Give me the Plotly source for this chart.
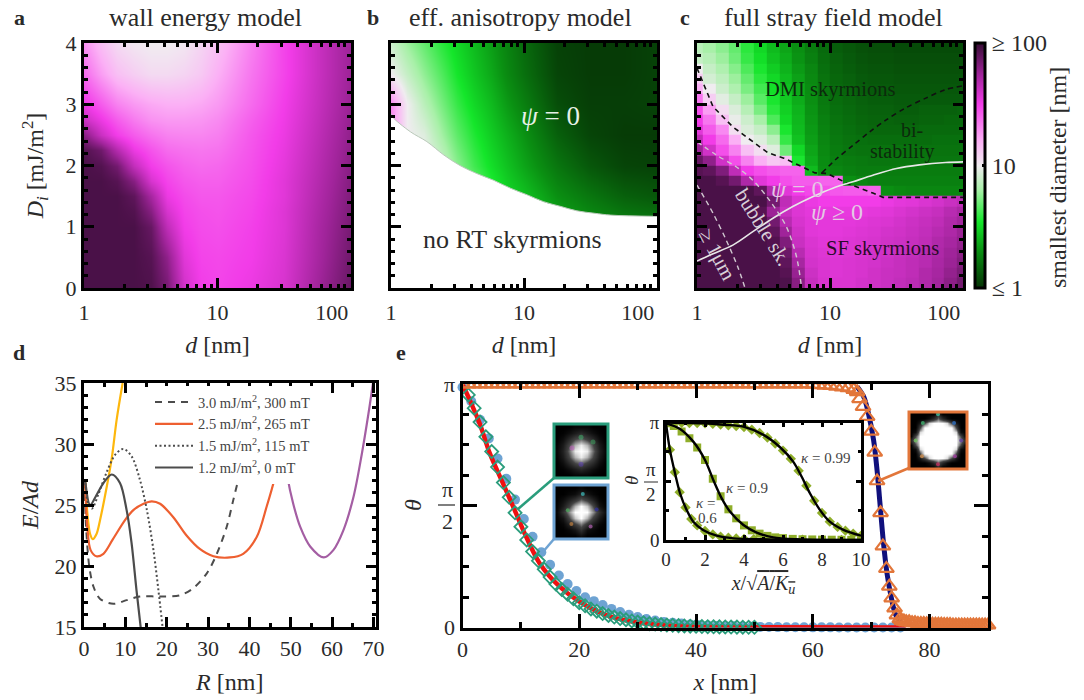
import plotly.graph_objects as go

W, H = 1084, 700
FONT = "Liberation Serif"
INK = "#2a2a2a"

# ---- panels a, b: smooth maps, z is log10(diameter / nm)
d_coarse = [1, 1.33, 1.78, 2.37, 3.16, 4.22, 5.62, 7.5, 10, 17.8, 31.6, 56.2, 100]
di_wall = [4, 3.5, 3, 2.75, 2.5, 2.25, 2, 1.75, 1.5, 1.25, 1, 0.5, 0]
z_wall = [
    [1.28, 1.15, 1.06, 1.02, 1.00, 1.00, 1.02, 1.08, 1.15, 1.32, 1.48, 1.62, 1.75],
    [1.38, 1.25, 1.15, 1.10, 1.06, 1.06, 1.08, 1.12, 1.20, 1.35, 1.48, 1.62, 1.75],
    [1.52, 1.42, 1.32, 1.26, 1.22, 1.20, 1.20, 1.22, 1.26, 1.38, 1.50, 1.63, 1.76],
    [1.62, 1.52, 1.42, 1.34, 1.28, 1.26, 1.26, 1.27, 1.30, 1.41, 1.51, 1.64, 1.77],
    [1.80, 1.62, 1.50, 1.42, 1.36, 1.32, 1.31, 1.31, 1.33, 1.43, 1.52, 1.65, 1.78],
    [1.93, 1.86, 1.68, 1.52, 1.44, 1.38, 1.36, 1.35, 1.36, 1.44, 1.53, 1.66, 1.79],
    [1.95, 1.93, 1.85, 1.64, 1.50, 1.44, 1.40, 1.38, 1.39, 1.45, 1.54, 1.67, 1.80],
    [1.95, 1.95, 1.92, 1.80, 1.58, 1.48, 1.43, 1.41, 1.41, 1.46, 1.55, 1.68, 1.81],
    [1.95, 1.95, 1.95, 1.90, 1.72, 1.52, 1.46, 1.43, 1.43, 1.47, 1.55, 1.69, 1.82],
    [1.95, 1.95, 1.95, 1.93, 1.80, 1.58, 1.48, 1.45, 1.44, 1.48, 1.56, 1.70, 1.83],
    [1.95, 1.95, 1.95, 1.95, 1.88, 1.65, 1.50, 1.46, 1.45, 1.49, 1.56, 1.71, 1.84],
    [1.95, 1.95, 1.95, 1.95, 1.92, 1.78, 1.55, 1.48, 1.47, 1.50, 1.57, 1.72, 1.86],
    [1.95, 1.95, 1.95, 1.95, 1.94, 1.84, 1.60, 1.50, 1.48, 1.52, 1.58, 1.74, 1.88],
]
di_aniso = [4, 3.5, 3, 2.5, 2, 1.5, 1, 0.5, 0]
z_aniso = [
    [0.90, 0.78, 0.68, 0.58, 0.50, 0.42, 0.34, 0.26, 0.18, 0.05, 0.03, 0.03, 0.05],
    [1.00, 0.88, 0.76, 0.65, 0.54, 0.45, 0.37, 0.28, 0.20, 0.06, 0.03, 0.03, 0.05],
    [1.30, 1.00, 0.85, 0.72, 0.60, 0.50, 0.42, 0.33, 0.25, 0.09, 0.04, 0.04, 0.05],
    [1.30, 1.00, 0.95, 0.80, 0.67, 0.56, 0.47, 0.39, 0.31, 0.15, 0.06, 0.03, 0.03],
    [1.30, 1.00, 1.00, 0.90, 0.75, 0.62, 0.52, 0.44, 0.36, 0.22, 0.12, 0.06, 0.05],
    [1.30, 1.00, 1.00, 1.00, 0.90, 0.75, 0.60, 0.50, 0.44, 0.30, 0.22, 0.15, 0.12],
    [1.30, 1.00, 1.00, 1.00, 1.00, 0.90, 0.70, 0.55, 0.50, 0.40, 0.32, 0.27, 0.25],
    [1.30, 1.00, 1.00, 1.00, 1.00, 0.90, 0.70, 0.55, 0.50, 0.40, 0.32, 0.27, 0.25],
    [1.30, 1.00, 1.00, 1.00, 1.00, 0.90, 0.70, 0.55, 0.50, 0.40, 0.32, 0.27, 0.25],
]
edge_d = [1, 1.02, 1.4, 1.86, 2.5, 3.3, 4.4, 5.9, 7.9, 10.6, 14, 19, 25, 34, 45, 100]
edge_di = [2.85, 2.8, 2.55, 2.39, 2.17, 2.0, 1.87, 1.76, 1.63, 1.52, 1.41, 1.33, 1.26, 1.22, 1.19, 1.17]

# ---- panel c: blocky map
d_full = [1, 1.24, 1.55, 1.93, 2.4, 2.98, 3.73, 4.64, 5.78, 7.2, 8.97,
          11.2, 13.9, 17.3, 21.5, 26.8, 33.4, 41.6, 51.8, 64.5, 80.3, 100]
di_full = [3.92, 3.75, 3.58, 3.42, 3.25, 3.08, 2.92, 2.75, 2.58, 2.42, 2.25, 2.08,
           1.92, 1.75, 1.58, 1.42, 1.25, 1.08, 0.92, 0.75, 0.58, 0.42, 0.25, 0.08]
z_full = [
    [.85, .80, .75, .68, .58, .50, .42, .36, .30, .24, .18, .14, .12, .10, .09, .09, .08, .08, .08, .08, .08, .08],
    [.88, .84, .78, .70, .60, .52, .44, .38, .31, .25, .19, .15, .13, .11, .10, .10, .09, .09, .09, .09, .09, .09],
    [1.0, .88, .82, .74, .64, .55, .47, .40, .33, .27, .20, .16, .14, .12, .11, .11, .10, .10, .10, .10, .10, .10],
    [1.1, .92, .86, .78, .68, .58, .50, .42, .35, .28, .21, .17, .15, .13, .12, .12, .11, .11, .11, .11, .11, .11],
    [1.2, 1.0, .90, .82, .72, .62, .52, .44, .37, .29, .22, .18, .16, .14, .13, .13, .12, .12, .12, .12, .12, .12],
    [1.35, 1.1, .96, .88, .78, .66, .55, .46, .38, .30, .23, .19, .17, .15, .14, .14, .13, .13, .13, .13, .13, .13],
    [1.45, 1.25, 1.05, .94, .84, .72, .58, .48, .40, .31, .24, .20, .18, .16, .15, .15, .14, .14, .15, .15, .15, .16],
    [1.50, 1.35, 1.15, .98, .90, .80, .64, .50, .41, .32, .25, .21, .19, .17, .16, .16, .15, .15, .16, .16, .17, .17],
    [1.55, 1.42, 1.30, 1.05, .94, .88, .75, .55, .42, .33, .26, .22, .20, .18, .17, .17, .17, .17, .18, .18, .18, .18],
    [1.65, 1.50, 1.38, 1.20, 1.0, .95, .85, .60, .44, .34, .27, .23, .21, .20, .19, .19, .19, .19, .19, .20, .20, .20],
    [1.75, 1.60, 1.45, 1.32, 1.15, 1.05, .95, .70, .50, .36, .28, .24, .22, .21, .21, .21, .21, .21, .21, .21, .21, .21],
    [1.88, 1.78, 1.60, 1.45, 1.32, 1.20, 1.12, 1.15, .55, .38, .29, .25, .24, .23, .22, .22, .22, .22, .22, .22, .22, .22],
    [1.92, 1.90, 1.82, 1.65, 1.50, 1.45, 1.42, 1.40, 1.40, .42, .30, .27, .25, .24, .24, .24, .24, .24, .24, .24, .24, .24],
    [1.95, 1.95, 1.92, 1.85, 1.70, 1.55, 1.50, 1.45, 1.42, 1.42, 1.40, 1.40, .30, .27, .25, .25, .25, .25, .25, .25, .25, .25],
    [1.95, 1.95, 1.95, 1.95, 1.95, 1.90, 1.70, 1.55, 1.50, 1.47, 1.45, 1.43, 1.42, 1.42, 1.40, .30, .28, .27, .27, .27, .27, .27],
    [1.95, 1.95, 1.95, 1.95, 1.95, 1.95, 1.85, 1.65, 1.56, 1.52, 1.50, 1.50, 1.50, 1.50, 1.50, 1.52, 1.54, 1.55, 1.57, 1.59, 1.62, 1.65],
    [1.95, 1.95, 1.95, 1.95, 1.95, 1.92, 1.75, 1.62, 1.56, 1.54, 1.53, 1.53, 1.53, 1.53, 1.54, 1.55, 1.57, 1.59, 1.61, 1.63, 1.67, 1.71],
    [1.95, 1.95, 1.95, 1.95, 1.95, 1.95, 1.85, 1.67, 1.58, 1.55, 1.54, 1.54, 1.54, 1.55, 1.56, 1.57, 1.59, 1.61, 1.63, 1.65, 1.69, 1.73],
    [1.95, 1.95, 1.95, 1.95, 1.95, 1.95, 1.90, 1.74, 1.60, 1.55, 1.54, 1.54, 1.55, 1.56, 1.57, 1.59, 1.60, 1.62, 1.64, 1.67, 1.70, 1.75],
    [1.95, 1.95, 1.95, 1.95, 1.95, 1.95, 1.93, 1.82, 1.62, 1.57, 1.55, 1.55, 1.56, 1.57, 1.58, 1.60, 1.61, 1.63, 1.65, 1.69, 1.72, 1.77],
    [1.95, 1.95, 1.95, 1.95, 1.95, 1.95, 1.95, 1.87, 1.67, 1.58, 1.56, 1.55, 1.56, 1.57, 1.59, 1.60, 1.62, 1.64, 1.67, 1.70, 1.74, 1.79],
    [1.95, 1.95, 1.95, 1.95, 1.95, 1.95, 1.95, 1.90, 1.72, 1.59, 1.57, 1.56, 1.57, 1.58, 1.59, 1.61, 1.63, 1.65, 1.67, 1.71, 1.75, 1.81],
    [1.95, 1.95, 1.95, 1.95, 1.95, 1.95, 1.95, 1.92, 1.76, 1.61, 1.57, 1.56, 1.57, 1.58, 1.60, 1.62, 1.63, 1.65, 1.69, 1.72, 1.77, 1.83],
    [1.95, 1.95, 1.95, 1.95, 1.95, 1.95, 1.95, 1.94, 1.80, 1.63, 1.58, 1.57, 1.57, 1.59, 1.60, 1.62, 1.64, 1.66, 1.69, 1.73, 1.79, 1.85],
]
dmi_d = [1, 1.32, 1.86, 2.63, 3.4, 4.5, 5.9, 7.7, 9.5, 13.5, 21, 25, 100]
dmi_di = [3.59, 2.96, 2.63, 2.39, 2.21, 2.12, 2.0, 1.88, 1.87, 1.71, 1.55, 1.48, 1.48]
bi_d = [8.7, 11.2, 14.9, 19.9, 26.3, 37, 52.5, 74, 100]
bi_di = [1.88, 2.11, 2.33, 2.55, 2.74, 2.94, 3.10, 3.24, 3.30]
psi_d = [1, 1.32, 1.86, 2.63, 3.7, 5.25, 7.4, 10.5, 14.9, 21, 31.6, 47, 74, 100]
psi_di = [0.44, 0.56, 0.70, 0.92, 1.135, 1.33, 1.49, 1.63, 1.735, 1.84, 1.95, 2.01, 2.05, 2.06]
bubble_d = [1, 1.4, 1.97, 2.63, 3.5, 4.7, 5.6, 6.1]
bubble_di = [2.39, 2.17, 1.98, 1.76, 1.435, 1.0, 0.51, 0.02]
micron_d = [1, 1.32, 1.66, 2.03, 2.28]
micron_di = [1.68, 1.22, 0.78, 0.34, 0.02]

# ---- panel d
r_yellow = [0.3, 0.9, 1.5, 2.1, 3.0, 3.9, 5.5, 6.7, 7.9, 9.35]
e_yellow = [27.0, 24.0, 22.6, 22.2, 22.6, 23.8, 26.5, 28.8, 32.0, 35.0]
r_orange = [0.3, 0.8, 1.6, 3.0, 4.7, 7.0, 10.0, 12.0, 14.4, 16.4, 18.4, 21.6, 24.8, 28.0,
            31.3, 35.3, 38.5, 41.8, 44.2, 46.2, 47.5]
e_orange = [26.8, 23.2, 21.3, 20.8, 21.0, 22.2, 23.8, 24.6, 25.1, 25.3, 25.1, 24.0, 22.5, 21.4,
            20.8, 20.7, 21.0, 22.4, 24.9, 27.3, 29.5]
r_purple = [48.4, 49.2, 50.6, 52.3, 54.7, 58.0, 60.3, 62.7, 65.2, 67.2, 68.8, 69.9]
e_purple = [29.5, 27.3, 25.1, 23.2, 21.6, 20.7, 21.3, 22.9, 25.7, 29.2, 32.5, 35.0]
r_dash = [0.1, 0.5, 1.3, 2.3, 3.9, 7.1, 10.3, 13.5, 18.4, 23.2, 26.5, 29.7, 32.0, 34.5, 36.1, 37.7]
e_dash = [27.0, 23.2, 19.9, 18.3, 17.3, 16.9, 17.2, 17.5, 17.5, 17.6, 18.2, 19.4, 20.9, 23.2, 25.4, 27.6]
r_dot = [0.3, 1.0, 1.9, 3.5, 5.5, 7.5, 9.5, 11.5, 13.5, 15.2, 16.8, 18.0, 19.0]
e_dot = [26.8, 25.1, 24.7, 25.9, 27.7, 29.1, 29.6, 29.0, 27.1, 24.6, 21.3, 18.0, 15.0]
r_solid = [0.3, 1.5, 3.0, 4.7, 6.7, 8.7, 10.3, 11.5, 12.7, 13.7]
e_solid = [27.0, 25.0, 25.8, 26.8, 27.5, 26.8, 24.6, 21.9, 18.0, 15.0]
legend_names = ["3.0 mJ/m<sup>2</sup>, 300 mT", "2.5 mJ/m<sup>2</sup>, 265 mT",
                "1.5 mJ/m<sup>2</sup>, 115 mT", "1.2 mJ/m<sup>2</sup>, 0 mT"]

# ---- panel e
x_red = [0, 0.97, 2.95, 4.66, 6.93, 8.9, 10.9, 13.2, 16.6, 20, 24.5, 29, 34.8, 40, 50, 76]
t_red = [3.14, 2.98, 2.63, 2.25, 1.86, 1.52, 1.17, 0.83, 0.53, 0.335, 0.163, 0.077, 0.026, 0.01, 0.003, 0.0]
x_navy = [67.6, 68.7, 69.5, 70.4, 71.0, 71.5, 72.1, 72.7, 73.4, 74.2, 75.2]
t_navy = [3.107, 2.98, 2.77, 2.42, 2.03, 1.6, 1.09, 0.70, 0.40, 0.163, 0.056]
x_blue = [0, 1.5, 3, 4.5, 6, 7.5, 9, 10.5, 12, 13.5, 15, 16.5, 18, 19.5, 21, 22.5, 24, 25.5, 27, 28.5,
          30, 31.5, 33, 34.5, 36, 37.5, 39, 40.5, 42, 43.5, 45, 46.5, 48, 49.5, 51, 52.5, 54, 55.5,
          57, 58.5, 60, 61.5, 63, 64.5, 66, 67.5, 69, 70.5, 72, 73.5, 75]
t_blue = [3.10, 2.92, 2.68, 2.44, 2.18, 1.92, 1.65, 1.40, 1.17, 0.97, 0.81, 0.67, 0.56, 0.47, 0.39, 0.34,
          0.29, 0.24, 0.20, 0.165, 0.135, 0.11, 0.09, 0.07, 0.06, 0.05, 0.04, 0.03, 0.025, 0.02, 0.018,
          0.015, 0.012, 0.01, 0.008, 0.006, 0.005, 0.004, 0.003, 0.003, 0.002, 0.002, 0.002, 0.001,
          0.001, 0.001, 0.001, 0.0, 0.0, 0.0, 0.0]
x_green = [1, 2, 3, 4, 5, 6, 7, 8, 9, 10, 11, 12, 13, 14, 15, 16, 17, 18, 19, 20, 21, 22, 23, 24, 25,
           26, 27, 28, 29, 30, 31, 32, 33, 34, 35, 36, 37, 38, 39, 40, 41, 42, 43, 44, 45, 46, 47, 48, 49, 50]
t_green = [3.00, 2.83, 2.65, 2.46, 2.27, 2.07, 1.87, 1.68, 1.48, 1.30, 1.13, 0.98, 0.86, 0.75, 0.65,
           0.56, 0.49, 0.43, 0.37, 0.32, 0.28, 0.24, 0.21, 0.18, 0.155, 0.135, 0.115, 0.10, 0.085, 0.07,
           0.06, 0.05, 0.044, 0.038, 0.032, 0.028, 0.024, 0.02, 0.017, 0.015, 0.012, 0.01, 0.009, 0.008,
           0.007, 0.006, 0.005, 0.004, 0.003, 0.003]
x_tri = [0, 1, 2, 3, 4, 5, 6, 7, 8, 9, 10, 11, 12, 13, 14, 15, 16, 17, 18, 19, 20, 21, 22, 23, 24, 25,
         26, 27, 28, 29, 30, 31, 32, 33, 34, 35, 36, 37, 38, 39, 40, 41, 42, 43, 44, 45, 46, 47, 48, 49,
         50, 51, 52, 53, 54, 55, 56, 57, 58, 59, 60, 61, 62, 63, 64, 65, 66, 67, 67.6, 68, 68.6, 69.3,
         70, 70.6, 71, 71.6, 72, 72.6, 73.1, 73.5, 74, 74.4, 74.9]
t_tri = [3.14, 3.14, 3.14, 3.14, 3.14, 3.14, 3.14, 3.14, 3.14, 3.14, 3.14, 3.14, 3.14, 3.14, 3.14, 3.14,
         3.14, 3.14, 3.14, 3.14, 3.14, 3.14, 3.14, 3.14, 3.14, 3.14, 3.14, 3.14, 3.14, 3.14, 3.14, 3.14,
         3.14, 3.14, 3.14, 3.14, 3.14, 3.14, 3.14, 3.14, 3.14, 3.14, 3.14, 3.14, 3.14, 3.14, 3.14, 3.14,
         3.14, 3.14, 3.14, 3.14, 3.14, 3.14, 3.14, 3.14, 3.14, 3.14, 3.14, 3.14, 3.135, 3.13, 3.125, 3.12,
         3.11, 3.10, 3.09, 3.07, 3.04, 2.95, 2.85, 2.72, 2.53, 2.26, 1.89, 1.48, 1.05, 0.76, 0.53, 0.38,
         0.25, 0.16, 0.11]
x_tail = [75.2, 75.6, 76, 76.5, 77, 77.5, 78, 78.5, 79, 79.5, 80, 80.5, 81, 81.5, 82, 82.5, 83, 83.5,
          84, 84.5, 85, 85.5, 86, 86.5, 87, 87.5, 88, 88.5, 89, 89.5, 90]
t_tail = [0.09, 0.08, 0.07, 0.07, 0.06, 0.06, 0.05, 0.05, 0.05, 0.045, 0.045, 0.04, 0.04, 0.04, 0.04,
          0.035, 0.035, 0.035, 0.03, 0.03, 0.03, 0.03, 0.03, 0.03, 0.03, 0.03, 0.03, 0.03, 0.03, 0.03, 0.03]

# ---- inset of e
x_k99 = [0, 1, 2, 3, 3.97, 5, 5.85, 6.53, 6.96, 7.38, 7.9, 8.4, 9.1, 10]
t_k99 = [3.14, 3.13, 3.12, 3.08, 3.03, 2.81, 2.48, 2.09, 1.69, 1.25, 0.80, 0.49, 0.27, 0.115]
x_k90 = [0, 0.72, 1.4, 2, 2.43, 2.85, 3.28, 3.97, 4.65, 5.5, 6.7, 10]
t_k90 = [3.12, 2.97, 2.63, 2.14, 1.6, 1.12, 0.76, 0.4, 0.2, 0.07, 0.02, 0.0]
x_k60 = [0, 0.2, 0.46, 0.72, 1.06, 1.4, 1.9, 2.6, 3.45, 5, 6.7, 10]
t_k60 = [3.12, 2.41, 1.79, 1.25, 0.8, 0.49, 0.27, 0.115, 0.045, 0.02, 0.0, 0.0]
xm_k99 = [0, 0.4, 0.8, 1.2, 1.6, 2, 2.4, 2.8, 3.2, 3.6, 4, 4.4, 4.8, 5.2, 5.6, 6, 6.4, 6.8, 7.2, 7.6, 8, 8.4, 8.8, 9.2, 9.6, 10]
tm_k99 = [3.14, 3.14, 3.135, 3.13, 3.125, 3.12, 3.11, 3.09, 3.07, 3.05, 3.02, 2.95, 2.86, 2.74, 2.58, 2.39,
          2.17, 1.85, 1.45, 1.05, 0.72, 0.49, 0.35, 0.25, 0.17, 0.115]
xm_k90 = [0, 0.4, 0.8, 1.2, 1.6, 2, 2.4, 2.8, 3.2, 3.6, 4, 4.4, 4.8, 5.2, 5.6, 6, 6.5, 7, 7.5, 8, 8.5, 9, 9.5, 10]
tm_k90 = [3.12, 3.05, 2.9, 2.72, 2.47, 2.14, 1.64, 1.17, 0.82, 0.58, 0.39, 0.26, 0.17, 0.11, 0.07, 0.05,
          0.03, 0.02, 0.015, 0.01, 0.008, 0.006, 0.004, 0.002]
xm_k60 = [0, 0.2, 0.45, 0.7, 1, 1.3, 1.6, 2, 2.4, 2.8, 3.2, 3.6, 4, 4.5, 5, 6, 7, 8, 9, 10]
tm_k60 = [3.12, 2.41, 1.81, 1.28, 0.87, 0.56, 0.39, 0.24, 0.15, 0.09, 0.06, 0.04, 0.03, 0.02, 0.015, 0.01,
          0.005, 0.003, 0.002, 0.001]

# ---- thumbnails (grey level, plus a few coloured specks)
thumb_a = [
    [0, 0, 0, .05, .05, .05, 0, 0, 0],
    [0, .02, .1, .2, .3, .2, .1, .02, 0],
    [0, .1, .3, .5, .6, .45, .3, .1, 0],
    [.03, .2, .5, .8, .95, .8, .5, .2, .03],
    [.05, .25, .6, .95, 1, .95, .6, .25, .05],
    [.03, .2, .5, .8, .95, .8, .5, .2, .03],
    [0, .1, .3, .5, .6, .45, .3, .1, 0],
    [0, .02, .1, .2, .3, .2, .1, .02, 0],
    [0, 0, 0, .05, .05, .05, 0, 0, 0],
]
thumb_b = [
    [0, 0, 0, 0, .1, 0, 0, 0, 0],
    [0, 0, .05, .15, .35, .1, .05, 0, 0],
    [0, .05, .25, .45, .65, .4, .2, .05, 0],
    [.02, .15, .5, .85, 1, .8, .45, .2, .02],
    [.05, .35, .7, 1, 1, 1, .7, .35, .1],
    [.02, .2, .45, .8, 1, .85, .5, .15, .02],
    [0, .1, .25, .4, .6, .45, .25, .05, 0],
    [0, 0, .05, .1, .25, .15, .05, 0, 0],
    [0, 0, 0, 0, .05, 0, 0, 0, 0],
]
thumb_c = [
    [0, 0, 0, 0, 0, 0, .3, 0, 0, 0, 0, 0, 0],
    [0, 0, 0, 0, .1, .3, .6, .3, .1, 0, 0, 0, 0],
    [0, 0, .2, .5, .9, 1, 1, 1, .9, .5, .2, 0, 0],
    [0, 0, .5, 1, 1, 1, 1, 1, 1, 1, .5, 0, 0],
    [0, .1, .9, 1, 1, 1, 1, 1, 1, 1, .9, .1, 0],
    [0, .5, 1, 1, 1, 1, 1, 1, 1, 1, 1, .5, 0],
    [.3, .7, 1, 1, 1, 1, 1, 1, 1, 1, 1, .7, .3],
    [0, .5, 1, 1, 1, 1, 1, 1, 1, 1, 1, .5, 0],
    [0, .1, .9, 1, 1, 1, 1, 1, 1, 1, .9, .1, 0],
    [0, 0, .5, 1, 1, 1, 1, 1, 1, 1, .5, 0, 0],
    [0, 0, .2, .5, .9, 1, 1, 1, .9, .5, .2, 0, 0],
    [0, 0, 0, 0, .1, .3, .6, .3, .1, 0, 0, 0, 0],
    [0, 0, 0, 0, 0, 0, .3, 0, 0, 0, 0, 0, 0],
]
speck_ax = [4, 4, 2.5, 6]
speck_ay = [6.3, 1.8, 4.5, 5.5]
speck_ac = ["#3fae6a", "#5a3fb0", "#c060c0", "#40a060"]
speck_bx = [4.3, 1.8, 6.6, 2.4, 5.6]
speck_by = [7, 4.3, 4.4, 2, 1.6]
speck_bc = ["#40c0c0", "#50b060", "#3030a0", "#c08040", "#b060b0"]
speck_cx = [6, 9.6, 11.2, 9.8, 6, 2.4, 1, 2.6]
speck_cy = [12, 10, 6, 2.4, 0.6, 2.4, 6, 10]
speck_cc = ["#3cc0a0", "#3070c0", "#6040a0", "#a040a0", "#c03060", "#d09050", "#70c060", "#40b070"]

log_ticks = [1, 10, 100]
log_labels = ["1", "10", "100\u00a0\u00a0\u00a0\u00a0\u00a0\u00a0\u00a0"]
log_minor = [2, 3, 4, 5, 6, 7, 8, 9, 20, 30, 40, 50, 60, 70, 80, 90]
di_ticks = [0, 1, 2, 3, 4]
r_ticks = [0, 10, 20, 30, 40, 50, 60, 70]
e_ticks = [15, 20, 25, 30, 35]
x_ticks = [0, 20, 40, 60, 80]
theta_ticks = [0, 1.5708, 3.1416]
theta_labels = ["0", "", "\u03c0"]
inset_ticks = [0, 2, 4, 6, 8, 10]

colorscale = [[0, "#053205"], [0.15, "#0a8f12"], [0.27, "#14e62a"], [0.4, "#a8f0a8"], [0.5, "#f0ecf0"],
              [0.6, "#fbb0f5"], [0.75, "#f23ce8"], [0.87, "#a0249a"], [1, "#360c34"]]
GREYS = [[0, "#000000"], [0.5, "#444444"], [1, "#ffffff"]]


def px_x(p):
    return p / W


def px_y(p):
    return 1 - p / H


def dom_x(a, b):
    return [px_x(a), px_x(b)]


def dom_y(top, bottom):
    return [px_y(bottom), px_y(top)]


def axis(domain, rng, vals, text=None, minor=None, kind="linear", anchor="y", title=None, size=22,
         major=8, small=4, wide=3, standoff=6, labels=True, title_size=24, pad=0):
    ax = dict(domain=domain, range=rng, type=kind, anchor=anchor, tickmode="array", tickvals=vals,
              ticks="inside", ticklen=major, tickwidth=wide, tickcolor="black", showgrid=False,
              zeroline=False, showline=True, linecolor="black", linewidth=wide, mirror="allticks",
              tickfont=dict(family=FONT, size=size, color=INK), showticklabels=labels,
              layer="above traces", ticklabelstandoff=pad)
    if text is not None:
        ax["ticktext"] = text
    if minor is not None:
        ax["minor"] = dict(tickmode="array", tickvals=minor, ticks="inside", ticklen=small,
                           tickwidth=wide, tickcolor="black", showgrid=False)
    if title:
        ax["title"] = dict(text=title, standoff=standoff, font=dict(family=FONT, size=title_size, color=INK))
    return ax


fig = go.Figure()


def add_line(x, y, sub, color, width=2, dash="solid", shape="spline", name=None):
    xa, ya = sub
    fig.add_trace(go.Scatter(x=x, y=y, xaxis=xa, yaxis=ya, mode="lines", name=name, showlegend=name is not None,
                             line=dict(color=color, width=width, dash=dash, shape=shape, smoothing=0.9)))


def add_marks(x, y, sub, symbol, color, size, width=0, clip=True, opacity=1):
    xa, ya = sub
    fig.add_trace(go.Scatter(x=x, y=y, xaxis=xa, yaxis=ya, mode="markers", showlegend=False, cliponaxis=clip,
                             opacity=opacity,
                             marker=dict(symbol=symbol, color=color, size=size, line=dict(width=width, color=color))))


# maps
fig.add_trace(go.Heatmap(x=d_coarse, y=di_wall, z=z_wall, coloraxis="coloraxis", zsmooth="best",
                         xaxis="x", yaxis="y"))
fig.add_trace(go.Heatmap(x=d_coarse, y=di_aniso, z=z_aniso, coloraxis="coloraxis", zsmooth="best",
                         xaxis="x2", yaxis="y2"))
fig.add_trace(go.Scatter(x=edge_d, y=edge_di, xaxis="x2", yaxis="y2", mode="lines", showlegend=False,
                         line=dict(color="#b9c9b9", width=1, shape="spline"), fill="tozeroy", fillcolor="white"))
fig.add_trace(go.Heatmap(x=d_full, y=di_full, z=z_full, coloraxis="coloraxis", xaxis="x3", yaxis="y3"))

add_line(dmi_d, dmi_di, ("x3", "y3"), "#111111", 1.6, "5px,4px", shape="linear")
add_line(bi_d, bi_di, ("x3", "y3"), "#111111", 1.6, "5px,4px")
add_line(psi_d, psi_di, ("x3", "y3"), "#e8e8e8", 1.6)
add_line(bubble_d, bubble_di, ("x3", "y3"), "#d0c8d0", 1.4, "5px,4px")
add_line(micron_d, micron_di, ("x3", "y3"), "#d0c8d0", 1.4, "5px,4px")

# panel d
add_line(r_yellow, e_yellow, ("x4", "y4"), "#fdb70d", 2.2)
add_line(r_purple, e_purple, ("x4", "y4"), "#a45ea3", 2.2)
add_line(r_dash, e_dash, ("x4", "y4"), "#4c4c4c", 2, "7px,6px", name=legend_names[0])
add_line(r_orange, e_orange, ("x4", "y4"), "#ee5f30", 2.2, name=legend_names[1])
add_line(r_dot, e_dot, ("x4", "y4"), "#4c4c4c", 2, "2px,2.5px", name=legend_names[2])
add_line(r_solid, e_solid, ("x4", "y4"), "#4c4c4c", 2.2, name=legend_names[3])

# panel e
add_marks(x_blue, t_blue, ("x5", "y5"), "circle", "#6ea3d3", 10, clip=False)
add_line(x_red, t_red, ("x5", "y5"), "#f01010", 4.5)
add_line(x_navy, t_navy, ("x5", "y5"), "#10107c", 5)
add_marks(x_green, t_green, ("x5", "y5"), "diamond-open", "#2a9d7c", 10, 1.8, clip=False)
add_marks(x_tri, t_tri, ("x5", "y5"), "triangle-up-open", "#e2763a", 13, 2.2)
add_marks(x_tail, t_tail, ("x5", "y5"), "triangle-up-open", "#e2763a", 13, 2.4, clip=False)

# inset
add_marks(xm_k60, tm_k60, ("x6", "y6"), "diamond", "#8fae2a", 8)
add_marks(xm_k90, tm_k90, ("x6", "y6"), "square", "#8fae2a", 8)
add_marks(xm_k99, tm_k99, ("x6", "y6"), "diamond", "#8fae2a", 8)
add_line(x_k60, t_k60, ("x6", "y6"), "black", 2.4)
add_line(x_k90, t_k90, ("x6", "y6"), "black", 2.4)
add_line(x_k99, t_k99, ("x6", "y6"), "black", 2.4)

# thumbnails
for z, xa, ya in [(thumb_a, "x7", "y7"), (thumb_b, "x8", "y8"), (thumb_c, "x9", "y9")]:
    fig.add_trace(go.Heatmap(z=z, xaxis=xa, yaxis=ya, colorscale=GREYS, zmin=0, zmax=1, showscale=False,
                             zsmooth="best"))
add_marks(speck_ax, speck_ay, ("x7", "y7"), "circle", speck_ac, 5, opacity=0.55)
add_marks(speck_bx, speck_by, ("x8", "y8"), "circle", speck_bc, 4, opacity=0.7)
add_marks(speck_cx, speck_cy, ("x9", "y9"), "circle", speck_cc, 4, opacity=0.8)

d_label = "<i>d</i> [nm]"
layout = dict(
    width=W, height=H, margin=dict(l=0, r=0, t=0, b=0, autoexpand=False), paper_bgcolor="white",
    plot_bgcolor="white", font=dict(family=FONT, color=INK),
    coloraxis=dict(cmin=0, cmax=2, colorscale=colorscale, colorbar=dict(
        x=px_x(975), xanchor="left", y=px_y(165.5), yanchor="middle", len=245, lenmode="pixels",
        thickness=10, xpad=0, ypad=0, outlinewidth=3, outlinecolor="black", tickmode="array",
        tickvals=[0, 1, 2],
        ticktext=["\u2264 1", "10", "\u2265 100"],
        ticks="inside", ticklen=4, tickwidth=3, tickcolor="black",
        tickfont=dict(family=FONT, size=24, color=INK))),
    legend=dict(x=px_x(150), y=px_y(386), xanchor="left", yanchor="top", bgcolor="white", borderwidth=0,
                font=dict(family=FONT, size=14.5, color="#444444"), itemwidth=38, tracegroupgap=0,
                traceorder="normal"),
)

di_minor = [0.2, 0.4, 0.6, 0.8, 1.2, 1.4, 1.6, 1.8, 2.2, 2.4, 2.6, 2.8, 3.2, 3.4, 3.6, 3.8]
panels = [("", "", 84, 351, True), ("2", "2", 391, 657, False), ("3", "3", 697, 963, False)]
for xs, ys, left, right, show in panels:
    layout["xaxis" + xs] = axis(dom_x(left, right), [0, 2], log_ticks, log_labels, log_minor, kind="log",
                                anchor="y" + ys, title=d_label, major=10, standoff=12, pad=3)
    layout["yaxis" + ys] = axis(dom_y(43, 288), [0, 4], di_ticks, None, di_minor, anchor="x" + xs, labels=show,
                                title="<i>D<sub>i</sub></i> [mJ/m<sup>2</sup>]" if show else None, major=10,
                                standoff=16)

layout["xaxis4"] = axis(dom_x(84, 375.5), [0, 70.5], r_ticks, None, [5, 15, 25, 35, 45, 55, 65], anchor="y4",
                        title="<i>R</i> [nm]", major=10, standoff=13)
layout["yaxis4"] = axis(dom_y(383, 627), [15, 35], e_ticks, None,
                        [16, 17, 18, 19, 21, 22, 23, 24, 26, 27, 28, 29, 31, 32, 33, 34], anchor="x4",
                        title="<i>E</i>/<i>Ad</i>", major=10, standoff=10)
layout["xaxis5"] = axis(dom_x(462.5, 988), [0, 90], x_ticks, None, [10, 30, 50, 70, 90], anchor="y5",
                        title="<i>x</i> [nm]", major=14, small=6, standoff=13)
layout["yaxis5"] = axis(dom_y(384, 627.5), [0, 3.1416], theta_ticks, theta_labels,
                        [0.3927, 0.7854, 1.1781, 1.9635, 2.3562, 2.7489], anchor="x5", major=14, small=6)
layout["xaxis6"] = axis(dom_x(666, 861), [0, 10], inset_ticks, None, [1, 3, 5, 7, 9], anchor="y6", size=19,
                        major=5, small=3, wide=2.5, title_size=20, standoff=8,
                        title="<i>x</i>/\u221a<span style='text-decoration:overline'><i>A</i>/<i>K<sub>u</sub></i></span>")
layout["yaxis6"] = axis(dom_y(422.5, 540), [0, 3.1416], theta_ticks, theta_labels,
                        [0.7854, 2.3562], anchor="x6", size=19, major=5, small=3, wide=2.5)
thumbs = [("7", 554, 608, 424, 478, 8), ("8", 554, 608, 485, 539, 8), ("9", 909, 967, 412, 469, 12)]
for sfx, x0, x1, y0, y1, last in thumbs:
    layout["xaxis" + sfx] = dict(domain=dom_x(x0, x1), visible=False, anchor="y" + sfx, range=[-0.5, last + 0.5])
    layout["yaxis" + sfx] = dict(domain=dom_y(y0, y1), visible=False, anchor="x" + sfx, range=[-0.5, last + 0.5])
fig.update_layout(**layout)


def note(text, x, y, size=22, color=INK, angle=0):
    fig.add_annotation(text=text, x=px_x(x), y=px_y(y), xref="paper", yref="paper", showarrow=False,
                       xanchor="center", yanchor="middle", textangle=angle,
                       font=dict(family=FONT, size=size, color=color))


note("<b>a</b>", 19, 18)
note("<b>b</b>", 373, 18)
note("<b>c</b>", 685, 18)
note("<b>d</b>", 19, 352)
note("<b>e</b>", 401, 352)
note("wall energy model", 205, 18, 26)
note("eff. anisotropy model", 520, 18, 26)
note("full stray field model", 833, 18, 26)
note("smallest diameter [nm]", 1058, 178, 24, INK, -90)

note("<i>\u03c8</i> = 0", 550, 116, 27, "#e6f0e6")
note("no RT skyrmions", 512, 239, 26)
note("DMI skyrmions", 830, 90, 20.5, "#0c2a0c")
note("bi-", 912, 130, 20, "#0c2a0c")
note("stability", 902, 152, 20, "#0c2a0c")
note("<i>\u03c8</i> = 0", 797, 189, 24, "#e4c8e4")
note("<i>\u03c8</i> \u2265 0", 837, 212, 24, "#e4c8e4")
note("SF skyrmions", 882, 249, 20.5, "#2a0a2a")
note("bubble sk.", 763, 227, 21, "#d8cfd8", 58)
note("\u2265 1\u03bcm", 717, 254, 21, "#d8cfd8", 62)

# pi/2 on the main and inset theta axes
note("\u03c0", 447, 489, 22)
note("2", 447, 521, 22)
note("\u03c0", 651, 470, 19)
note("2", 651, 494, 19)
note("<i>\u03b8</i>", 413, 505, 24, INK, -90)
note("<i>\u03b8</i>", 631, 481, 19, INK, -90)
note("<i>\u03ba</i> = 0.99", 825, 458, 15, "#444444")
note("<i>\u03ba</i> = 0.9", 747, 488, 15, "#444444")
note("<i>\u03ba</i> =", 705, 503, 15, "#444444")
note("0.6", 707, 518, 15, "#444444")


def seg(x0, y0, x1, y1, color, width=3):
    fig.add_shape(type="line", xref="paper", yref="paper", x0=px_x(x0), y0=px_y(y0), x1=px_x(x1), y1=px_y(y1),
                  line=dict(color=color, width=width))


def frame(x0, y0, x1, y1, color):
    fig.add_shape(type="rect", xref="paper", yref="paper", x0=px_x(x0), y0=px_y(y0), x1=px_x(x1), y1=px_y(y1),
                  line=dict(color=color, width=3))


seg(438, 505, 455, 505, INK, 1.2)
seg(644, 482, 658, 482, INK, 1)
seg(518, 509, 554, 478, "#2a9d7c", 2.5)
seg(542, 553, 554, 539, "#6ea3d3", 2.5)
seg(878, 481, 909, 468, "#e2763a", 2.5)
frame(554, 424, 608, 478, "#2a9d7c")
frame(554, 485, 608, 539, "#6ea3d3")
frame(909, 412, 967, 469, "#e2763a")

fig.write_html("out.html", config=dict(displayModeBar=False), post_script="document.body.style.margin = '0';")
